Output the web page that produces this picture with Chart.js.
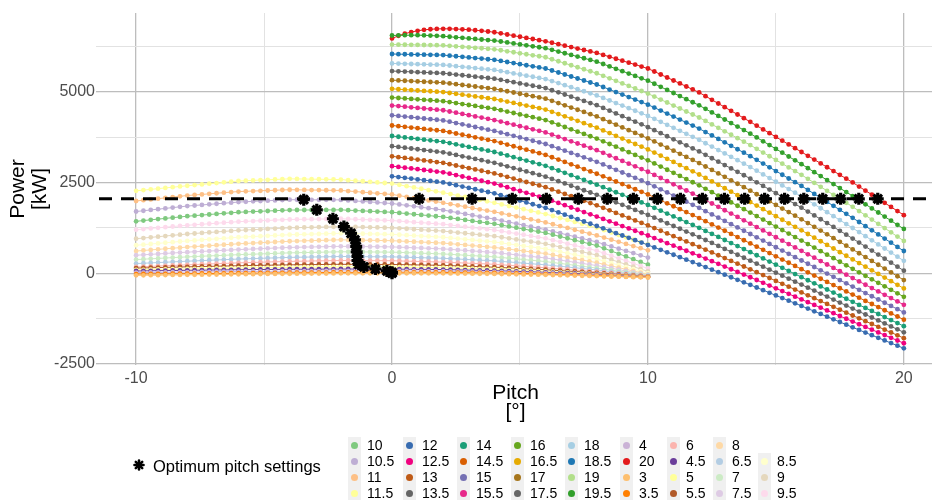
<!DOCTYPE html>
<html>
<head>
<meta charset="utf-8">
<script src="https://cdn.jsdelivr.net/npm/chart.js@4.4.1/dist/chart.umd.min.js"></script>
<style>
  html, body { margin: 0; padding: 0; background: #ffffff; }
  #wrap { position: relative; width: 934px; height: 500px; font-family: "Liberation Sans", Arial, sans-serif; overflow: hidden; }
  #chart { position: absolute; left: 0; top: 0; }
  .key { position: absolute; width: 13px; height: 16px; background: #f0f0f0; }
  .dot { position: absolute; width: 7px; height: 7px; border-radius: 50%; }
  .lbl { position: absolute; font-size: 14px; line-height: 16px; color: #000; white-space: nowrap; }
  .optlbl { position: absolute; font-size: 16.5px; line-height: 20px; color: #000; white-space: nowrap; }
</style>
</head>
<body>
<div id="wrap">
  <canvas id="chart" width="934" height="500"></canvas>
  <div id="legend"></div>
</div>
<script>
// ---- Sampling grids (blade pitch, degrees) ----
// low wind speeds were evaluated on 71 pitch values from -10 to 10,
// high wind speeds on 81 pitch values from 0 to 20
const pitchLow = Array.from({ length: 71 }, (_, j) => -10 + j * 20 / 70);
const pitchHigh = Array.from({ length: 81 }, (_, j) => j * 0.25);

// ---- Power [kW] per wind speed [m/s] ----
const P3 = [-60,-58,-56,-54,-51,-49,-47,-45,-43,-41,-39,-36,-34,-32,-30,-28,-26,-24,-21,-19,-17,-15,-14,-12,-11,-9,-8,-6,-5,-4,-4,-3,-2,-1,-1,0,-1,-1,-2,-3,-4,-4,-5,-7,-9,-11,-14,-16,-18,-20,-24,-27,-31,-34,-38,-41,-45,-50,-55,-60,-65,-70,-75,-80,-86,-91,-97,-103,-109,-114,-120];
const P3_5 = [-25,-23,-21,-19,-18,-16,-14,-12,-10,-9,-7,-5,-3,-2,0,2,3,5,7,9,10,12,13,14,15,17,18,19,20,21,21,22,23,24,24,25,24,24,23,22,21,21,20,18,16,14,11,9,7,5,1,-4,-8,-12,-16,-21,-25,-31,-36,-42,-48,-54,-59,-65,-71,-78,-84,-91,-97,-104,-110];
const P4 = [15,17,19,21,24,26,28,30,32,34,36,39,41,43,45,46,48,49,51,52,54,55,56,57,58,59,60,61,62,62,62,62,63,63,63,63,62,61,60,58,57,56,55,52,49,46,44,41,38,35,30,25,20,15,10,5,0,-7,-14,-21,-29,-36,-43,-50,-58,-66,-74,-81,-89,-97,-105];
const P4_5 = [60,63,66,69,71,74,77,80,82,84,86,89,91,93,95,97,99,101,102,104,106,108,109,110,111,112,113,114,115,115,114,114,114,114,113,113,111,109,107,106,104,102,100,96,91,87,83,79,74,70,64,57,51,44,38,31,25,16,8,-1,-9,-18,-26,-35,-44,-54,-63,-72,-81,-91,-100];
const P5 = [90,94,97,101,104,108,111,115,119,122,126,129,133,136,140,143,146,149,151,154,157,160,162,163,165,167,169,170,172,172,171,171,171,171,170,170,167,164,161,159,156,153,150,144,139,133,127,121,116,110,101,93,84,76,67,59,50,40,30,20,10,0,-10,-20,-31,-41,-52,-63,-74,-84,-95];
const P5_5 = [140,145,150,155,160,165,170,175,179,184,188,192,196,201,205,209,212,216,219,223,226,230,232,234,236,239,241,243,245,244,244,243,242,241,241,240,236,233,229,226,222,219,215,208,201,194,186,179,172,165,155,145,135,125,115,105,95,83,71,59,46,34,22,10,-4,-19,-33,-47,-61,-76,-90];
const P6 = [170,179,187,196,204,213,221,230,238,246,254,261,269,277,285,291,296,302,308,314,319,325,329,332,336,339,343,346,350,349,348,347,346,345,344,343,338,332,327,321,316,310,305,296,288,279,271,262,254,245,231,218,204,191,177,164,150,134,119,103,87,71,56,40,23,6,-11,-29,-46,-63,-80];
const P6_5 = [265,274,284,293,302,311,321,330,339,347,356,364,373,381,390,396,403,409,416,422,429,435,439,442,446,449,453,456,460,459,457,456,454,453,451,450,444,439,433,427,421,416,410,400,390,380,370,360,350,340,324,309,293,277,261,246,230,210,190,170,150,130,110,90,67,44,21,-1,-24,-47,-70];
const P7 = [375,386,396,407,418,429,439,450,459,467,476,484,493,501,510,517,524,531,539,546,553,560,564,569,573,577,581,586,590,589,587,586,584,583,581,580,573,566,559,551,544,537,530,519,507,496,484,473,461,450,431,413,394,376,357,339,320,294,269,243,217,191,166,140,111,83,54,26,-3,-31,-60];
const P7_5 = [495,507,519,531,544,556,568,580,590,600,610,620,630,640,650,659,667,676,684,693,701,710,714,719,723,727,731,736,740,738,736,734,731,729,727,725,717,709,701,694,686,678,670,656,641,627,613,599,584,570,549,527,506,484,463,441,420,390,360,330,300,270,240,210,173,136,99,61,24,-13,-50];
const P8 = [610,626,641,657,673,689,704,720,733,746,759,771,784,797,810,820,830,840,850,860,870,880,886,891,897,903,909,914,920,916,913,909,906,902,899,895,886,876,867,858,849,839,830,813,796,779,761,744,727,710,686,661,637,613,589,564,540,504,469,433,397,361,326,290,244,199,153,107,61,16,-30];
const P8_5 = [770,787,804,821,839,856,873,890,904,919,933,947,961,976,990,1000,1010,1020,1030,1040,1050,1060,1066,1071,1077,1083,1089,1094,1100,1096,1091,1087,1083,1079,1074,1070,1059,1047,1036,1024,1013,1001,990,971,953,934,916,897,879,860,833,806,779,751,724,697,670,630,590,550,510,470,430,390,334,279,223,167,111,56,0];
const P9 = [950,969,987,1006,1024,1043,1061,1080,1094,1109,1123,1137,1151,1166,1180,1190,1200,1210,1220,1230,1240,1250,1255,1260,1265,1270,1275,1280,1285,1280,1275,1270,1265,1260,1255,1250,1237,1224,1211,1199,1186,1173,1160,1140,1120,1100,1080,1060,1040,1020,990,960,930,900,870,840,810,766,721,677,633,589,544,500,436,371,307,243,179,114,50];
const P9_5 = [1200,1217,1234,1251,1269,1286,1303,1320,1334,1349,1363,1377,1391,1406,1420,1429,1437,1446,1454,1463,1471,1480,1483,1486,1489,1491,1494,1497,1500,1493,1486,1479,1471,1464,1457,1450,1436,1421,1407,1393,1379,1364,1350,1327,1304,1281,1259,1236,1213,1190,1157,1124,1091,1059,1026,993,960,911,863,814,766,717,669,620,550,480,410,340,270,200,130];
const P10 = [1430,1450,1470,1490,1510,1530,1550,1570,1586,1601,1617,1633,1649,1664,1680,1689,1697,1706,1714,1723,1731,1740,1741,1741,1742,1743,1744,1744,1745,1736,1726,1717,1708,1699,1689,1680,1661,1643,1624,1606,1587,1569,1550,1523,1496,1469,1441,1414,1387,1360,1324,1289,1253,1217,1181,1146,1110,1060,1010,960,910,860,810,760,685,610,535,460,385,310,235];
const P10_5 = [1700,1721,1743,1764,1786,1807,1829,1850,1866,1881,1897,1913,1929,1944,1960,1969,1979,1988,1997,2006,2016,2025,2024,2024,2023,2022,2021,2021,2020,2006,1991,1977,1963,1949,1934,1920,1894,1869,1843,1817,1791,1766,1740,1704,1669,1633,1597,1561,1526,1490,1449,1407,1366,1324,1283,1241,1200,1151,1103,1054,1006,957,909,860,799,737,676,614,553,491,430];
const P11 = [1990,2011,2033,2054,2076,2097,2119,2140,2156,2171,2187,2203,2219,2234,2250,2257,2264,2271,2279,2286,2293,2300,2297,2294,2291,2289,2286,2283,2280,2264,2249,2233,2217,2201,2186,2170,2137,2104,2071,2039,2006,1973,1940,1904,1869,1833,1797,1761,1726,1690,1649,1607,1566,1524,1483,1441,1400,1349,1297,1246,1194,1143,1091,1040,981,923,864,806,747,689,630];
const P11_5 = [2270,2290,2310,2330,2350,2370,2390,2410,2429,2447,2466,2484,2503,2521,2540,2549,2557,2566,2574,2583,2591,2600,2597,2594,2591,2589,2586,2583,2580,2564,2549,2533,2517,2501,2486,2470,2434,2399,2363,2327,2291,2256,2220,2180,2140,2100,2060,2020,1980,1940,1896,1851,1807,1763,1719,1674,1630,1576,1521,1467,1413,1359,1304,1250,1184,1119,1053,987,921,856,790];

const P12 = [2670,2649,2628,2606,2585,2564,2543,2521,2500,2463,2425,2388,2350,2313,2275,2238,2200,2150,2100,2050,2000,1950,1900,1850,1800,1738,1675,1613,1550,1488,1425,1363,1300,1235,1170,1104,1039,974,909,843,778,711,643,576,508,441,373,306,238,168,98,28,-42,-112,-182,-252,-322,-395,-467,-540,-612,-685,-757,-830,-902,-976,-1050,-1123,-1197,-1271,-1345,-1418,-1492,-1564,-1637,-1709,-1781,-1853,-1926,-1998,-2070];
const P12_5 = [2950,2929,2908,2886,2865,2844,2823,2801,2780,2741,2703,2664,2625,2586,2548,2509,2470,2419,2368,2316,2265,2214,2163,2111,2060,1998,1935,1873,1810,1748,1685,1623,1560,1495,1430,1364,1299,1234,1169,1103,1038,968,898,828,758,688,618,548,478,404,331,257,183,109,36,-38,-112,-188,-265,-341,-417,-493,-570,-646,-722,-798,-875,-951,-1027,-1103,-1180,-1256,-1332,-1407,-1482,-1556,-1631,-1706,-1781,-1855,-1930];
const P13 = [3220,3198,3175,3153,3130,3108,3085,3063,3040,3004,2968,2931,2895,2859,2823,2786,2750,2703,2655,2608,2560,2513,2465,2418,2370,2308,2245,2183,2120,2058,1995,1933,1870,1801,1732,1662,1593,1524,1455,1385,1316,1242,1169,1095,1021,947,874,800,726,649,571,494,416,339,261,184,106,27,-53,-133,-212,-292,-371,-451,-530,-610,-689,-769,-848,-928,-1007,-1087,-1166,-1244,-1322,-1400,-1478,-1556,-1634,-1712,-1790];
const P13_5 = [3500,3479,3458,3436,3415,3394,3373,3351,3330,3294,3258,3221,3185,3149,3113,3076,3040,2993,2945,2898,2850,2803,2755,2708,2660,2598,2535,2473,2410,2348,2285,2223,2160,2091,2021,1952,1883,1813,1744,1674,1605,1529,1453,1376,1300,1224,1148,1071,995,914,833,751,670,589,508,426,345,263,180,98,15,-68,-150,-233,-315,-398,-480,-563,-645,-728,-810,-893,-975,-1057,-1139,-1221,-1303,-1384,-1466,-1548,-1630];
const P14 = [3780,3760,3740,3720,3700,3680,3660,3640,3620,3585,3550,3515,3480,3445,3410,3375,3340,3293,3245,3198,3150,3103,3055,3008,2960,2895,2830,2765,2700,2635,2570,2505,2440,2370,2300,2230,2160,2090,2020,1950,1880,1801,1723,1644,1565,1486,1408,1329,1250,1166,1083,999,915,831,748,664,580,494,408,321,235,149,63,-24,-110,-195,-280,-365,-450,-535,-620,-705,-790,-874,-958,-1041,-1125,-1209,-1293,-1376,-1460];
const P14_5 = [4070,4051,4033,4014,3995,3976,3958,3939,3920,3885,3850,3815,3780,3745,3710,3675,3640,3593,3545,3498,3450,3403,3355,3308,3260,3195,3130,3065,3000,2935,2870,2805,2740,2669,2598,2526,2455,2384,2313,2241,2170,2089,2008,1926,1845,1764,1683,1601,1520,1433,1345,1258,1170,1083,995,908,820,731,643,554,465,376,288,199,110,23,-65,-153,-240,-328,-415,-503,-590,-676,-763,-849,-935,-1021,-1108,-1194,-1280];
const P15 = [4350,4333,4315,4298,4280,4263,4245,4228,4210,4174,4138,4101,4065,4029,3993,3956,3920,3875,3830,3785,3740,3695,3650,3605,3560,3499,3438,3376,3315,3254,3193,3131,3070,2996,2923,2849,2775,2701,2628,2554,2480,2395,2310,2225,2140,2055,1970,1885,1800,1710,1620,1530,1440,1350,1260,1170,1080,989,898,806,715,624,533,441,350,260,170,80,-10,-100,-190,-280,-370,-459,-548,-636,-725,-814,-903,-991,-1080];
const P15_5 = [4620,4604,4588,4571,4555,4539,4523,4506,4490,4456,4423,4389,4355,4321,4288,4254,4220,4178,4135,4093,4050,4008,3965,3923,3880,3819,3758,3696,3635,3574,3513,3451,3390,3316,3241,3167,3093,3018,2944,2869,2795,2709,2623,2536,2450,2364,2278,2191,2105,2013,1920,1828,1735,1643,1550,1458,1365,1271,1178,1084,990,896,803,709,615,521,428,334,240,146,53,-41,-135,-227,-319,-411,-503,-595,-687,-779,-871];
const P16 = [4840,4828,4815,4803,4790,4778,4765,4753,4740,4714,4688,4661,4635,4609,4583,4556,4530,4491,4453,4414,4375,4336,4298,4259,4220,4156,4093,4029,3965,3901,3838,3774,3710,3635,3560,3485,3410,3335,3260,3185,3110,3024,2938,2851,2765,2679,2593,2506,2420,2326,2233,2139,2045,1951,1858,1764,1670,1574,1478,1381,1285,1189,1093,996,900,803,705,608,510,413,315,218,120,24,-73,-169,-265,-361,-458,-554,-650];
const P16_5 = [5080,5069,5058,5046,5035,5024,5013,5001,4990,4966,4943,4919,4895,4871,4848,4824,4800,4764,4728,4691,4655,4619,4583,4546,4510,4448,4385,4323,4260,4198,4135,4073,4010,3935,3860,3785,3710,3635,3560,3485,3410,3324,3238,3151,3065,2979,2893,2806,2720,2625,2530,2435,2340,2245,2150,2055,1960,1863,1765,1668,1570,1473,1375,1278,1180,1080,980,880,780,680,580,480,380,280,180,80,-20,-120,-220,-320,-420];
const P17 = [5320,5311,5303,5294,5285,5276,5268,5259,5250,5229,5208,5186,5165,5144,5123,5101,5080,5046,5013,4979,4945,4911,4878,4844,4810,4749,4688,4626,4565,4504,4443,4381,4320,4244,4169,4093,4018,3942,3866,3791,3715,3630,3545,3460,3375,3290,3205,3120,3035,2940,2845,2750,2655,2560,2465,2370,2275,2176,2078,1979,1880,1781,1683,1584,1485,1381,1278,1174,1070,966,863,759,655,550,444,339,233,128,22,-84,-189];
const P17_5 = [5570,5563,5555,5548,5540,5533,5525,5518,5510,5491,5473,5454,5435,5416,5398,5379,5360,5328,5295,5263,5230,5198,5165,5133,5100,5041,4983,4924,4865,4806,4748,4689,4630,4554,4479,4403,4328,4252,4176,4101,4025,3941,3858,3774,3690,3606,3523,3439,3355,3261,3168,3074,2980,2886,2793,2699,2605,2505,2405,2305,2205,2105,2005,1905,1805,1699,1593,1486,1380,1274,1168,1061,955,844,734,623,512,401,291,180,69];
const P18 = [5780,5775,5770,5765,5760,5755,5750,5745,5740,5723,5705,5688,5670,5653,5635,5618,5600,5569,5538,5506,5475,5444,5413,5381,5350,5294,5238,5181,5125,5069,5013,4956,4900,4829,4759,4688,4618,4547,4476,4406,4335,4253,4170,4088,4005,3923,3840,3758,3675,3581,3488,3394,3300,3206,3113,3019,2925,2824,2723,2621,2520,2419,2318,2216,2115,2006,1898,1789,1680,1571,1463,1354,1245,1132,1019,906,793,680,567,454,341];
const P18_5 = [6040,6036,6033,6029,6025,6021,6018,6014,6010,5994,5978,5961,5945,5929,5913,5896,5880,5850,5820,5790,5760,5730,5700,5670,5640,5585,5530,5475,5420,5365,5310,5255,5200,5131,5061,4992,4923,4853,4784,4714,4645,4563,4480,4398,4315,4233,4150,4068,3985,3890,3795,3700,3605,3510,3415,3320,3225,3123,3020,2918,2815,2713,2610,2508,2405,2295,2185,2075,1965,1855,1745,1635,1525,1411,1296,1182,1068,954,840,725,611];
const P19 = [6300,6298,6295,6293,6290,6288,6285,6283,6280,6266,6253,6239,6225,6211,6198,6184,6170,6143,6115,6088,6060,6033,6005,5978,5950,5895,5840,5785,5730,5675,5620,5565,5510,5440,5370,5300,5230,5160,5090,5020,4950,4868,4785,4703,4620,4538,4455,4373,4290,4195,4100,4005,3910,3815,3720,3625,3530,3428,3325,3223,3120,3018,2915,2813,2710,2600,2490,2380,2270,2160,2050,1940,1830,1713,1595,1478,1360,1243,1125,1008,890];
const P19_5 = [6550,6555,6558,6560,6560,6555,6548,6540,6530,6515,6500,6485,6470,6455,6440,6425,6410,6384,6358,6331,6305,6279,6253,6226,6200,6154,6108,6061,6015,5969,5923,5876,5830,5764,5699,5633,5568,5502,5436,5371,5305,5220,5135,5050,4965,4880,4795,4710,4625,4528,4430,4333,4235,4138,4040,3943,3845,3740,3635,3530,3425,3320,3215,3110,3005,2895,2785,2675,2565,2455,2345,2235,2125,2012,1899,1786,1673,1559,1446,1333,1220];
const P20 = [6470,6540,6600,6645,6680,6705,6722,6732,6735,6733,6728,6720,6710,6695,6680,6660,6640,6609,6578,6546,6515,6484,6453,6421,6390,6350,6310,6270,6230,6190,6150,6110,6070,6016,5963,5909,5855,5801,5748,5694,5640,5558,5475,5393,5310,5228,5145,5063,4980,4879,4778,4676,4575,4474,4373,4271,4170,4066,3963,3859,3755,3651,3548,3444,3340,3235,3130,3025,2920,2815,2710,2605,2500,2388,2275,2163,2050,1938,1825,1713,1600];

// ---- Optimum pitch per wind speed and the power it gives ----
const optWind  = ['3','3.5','4','4.5','5','5.5','6','6.5','7','7.5','8','8.5','9','9.5','10','10.5','11','11.5','12','12.5','13','13.5','14','14.5','15','15.5','16','16.5','17','17.5','18','18.5','19','19.5','20'];
const optPitch = [0.0,0.0,-0.2,-0.65,-1.1,-1.3,-1.35,-1.35,-1.38,-1.4,-1.45,-1.6,-1.88,-2.31,-2.94,-3.45,1.06,3.13,4.70,6.03,7.28,8.41,9.43,10.37,11.27,12.13,12.99,13.78,14.56,15.34,16.09,16.83,17.53,18.24,18.98];
const optPower = [0,25,63,115,171,244,350,460,590,740,920,1100,1285,1500,1745,2025,2050,2050,2050,2050,2050,2050,2050,2050,2050,2050,2050,2050,2050,2050,2050,2050,2050,2050,2050];

// rated power of the turbine [kW]
const ratedPower = 2050;

// ---- Axis ticks ----
const pitchTicks = [-10, -5, 0, 5, 10, 15, 20];
const pitchLabelTicks = [-10, 0, 10, 20];
const powerTicks = [-2500, -1250, 0, 1250, 2500, 3750, 5000, 6250];
const powerLabelTicks = [-2500, 0, 2500, 5000];

// ---- Colours per wind speed ----
const windColors = {
  '10': '#7fc97f', '10.5': '#beaed4', '11': '#fdc086', '11.5': '#ffff99',
  '12': '#386cb0', '12.5': '#f0027f', '13': '#bf5b17', '13.5': '#666666',
  '14': '#1b9e77', '14.5': '#d95f02', '15': '#7570b3', '15.5': '#e7298a',
  '16': '#66a61e', '16.5': '#e6ab02', '17': '#a6761d', '17.5': '#666666',
  '18': '#a6cee3', '18.5': '#1f78b4', '19': '#b2df8a', '19.5': '#33a02c',
  '20': '#e31a1c', '3': '#fdbf6f', '3.5': '#ff7f00', '4': '#cab2d6',
  '4.5': '#6a3d9a', '5': '#ffff99', '5.5': '#b15928', '6': '#fbb4ae',
  '6.5': '#b3cde3', '7': '#ccebc5', '7.5': '#decbe4', '8': '#fed9a6',
  '8.5': '#ffffcc', '9': '#e5d8bd', '9.5': '#fddaec'
};

const lowSeries = [
  ['3', P3], ['3.5', P3_5], ['4', P4], ['4.5', P4_5], ['5', P5], ['5.5', P5_5],
  ['6', P6], ['6.5', P6_5], ['7', P7], ['7.5', P7_5], ['8', P8], ['8.5', P8_5],
  ['9', P9], ['9.5', P9_5], ['10', P10], ['10.5', P10_5], ['11', P11], ['11.5', P11_5]
];
const highSeries = [
  ['12', P12], ['12.5', P12_5], ['13', P13], ['13.5', P13_5], ['14', P14], ['14.5', P14_5],
  ['15', P15], ['15.5', P15_5], ['16', P16], ['16.5', P16_5], ['17', P17], ['17.5', P17_5],
  ['18', P18], ['18.5', P18_5], ['19', P19], ['19.5', P19_5], ['20', P20]
];

// legend layout, column by column
const legendColumns = [
  ['10', '10.5', '11', '11.5'], ['12', '12.5', '13', '13.5'], ['14', '14.5', '15', '15.5'],
  ['16', '16.5', '17', '17.5'], ['18', '18.5', '19', '19.5'], ['4', '20', '3', '3.5'],
  ['6', '4.5', '5', '5.5'], ['8', '6.5', '7', '7.5'], [null, '8.5', '9', '9.5']
];

// axis ranges
const X_MIN = -11.45, X_MAX = 21.1;
const Y_MIN = -2530, Y_MAX = 7170;

const FONT = '"Liberation Sans", Arial, sans-serif';

function curve(name, grid, values, order) {
  const color = windColors[name];
  return {
    label: name,
    data: values.map((p, i) => ({ x: grid[i], y: p })),
    showLine: true,
    borderColor: color,
    backgroundColor: color,
    borderWidth: 1,
    pointRadius: 2.4,
    pointBorderWidth: 0,
    pointHoverRadius: 0,
    order: order
  };
}

const datasets = [];
// optimum settings on top
datasets.push({
  label: 'Optimum pitch settings',
  data: optPitch.map((p, i) => ({ x: p, y: optPower[i] })),
  showLine: false,
  pointStyle: 'star',
  pointRadius: 6,
  borderWidth: 3.2,
  borderColor: '#000000',
  backgroundColor: '#000000',
  order: 0
});
datasets.push({
  label: 'rated',
  data: [{ x: X_MIN, y: ratedPower }, { x: X_MAX, y: ratedPower }],
  showLine: true,
  borderColor: '#000000',
  borderWidth: 3,
  borderDash: [13, 9],
  pointRadius: 0,
  order: 1
});
highSeries.forEach(([n, v]) => datasets.push(curve(n, pitchHigh, v, 2)));
lowSeries.forEach(([n, v]) => datasets.push(curve(n, pitchLow, v, 3)));

const majorGrid = '#bdbdbd', minorGrid = '#e2e2e2';

new Chart(document.getElementById('chart'), {
  type: 'scatter',
  data: { datasets },
  options: {
    responsive: false,
    animation: false,
    events: [],
    layout: { autoPadding: false, padding: { left: 0, right: 2, top: 13, bottom: 78 } },
    plugins: { legend: { display: false }, tooltip: { enabled: false } },
    scales: {
      x: {
        type: 'linear',
        min: X_MIN, max: X_MAX,
        afterBuildTicks: s => { s.ticks = pitchTicks.map(v => ({ value: v })); },
        afterFit: s => { s.height = 57; s.paddingLeft = 0; s.paddingRight = 0; },
        border: { display: false },
        grid: {
          drawTicks: false,
          color: c => pitchLabelTicks.includes(c.tick.value) ? majorGrid : minorGrid,
          lineWidth: c => pitchLabelTicks.includes(c.tick.value) ? 1.3 : 1
        },
        ticks: {
          autoSkip: false, maxRotation: 0, padding: 4,
          color: '#4d4d4d', font: { family: FONT, size: 16 },
          callback: v => pitchLabelTicks.includes(v) ? String(v) : ''
        },
        title: {
          display: true, text: ['Pitch', '[°]'], color: '#000000',
          font: { family: FONT, size: 21, lineHeight: 0.9 },
          padding: { top: 0, bottom: 0 }
        }
      },
      y: {
        type: 'linear',
        min: Y_MIN, max: Y_MAX,
        afterBuildTicks: s => { s.ticks = powerTicks.map(v => ({ value: v })); },
        afterFit: s => { s.width = 99; s.paddingTop = 0; s.paddingBottom = 0; },
        border: { display: false },
        grid: {
          drawTicks: true, tickLength: 3,
          color: c => powerLabelTicks.includes(c.tick.value) ? majorGrid : minorGrid,
          lineWidth: c => powerLabelTicks.includes(c.tick.value) ? 1.3 : 1
        },
        ticks: {
          autoSkip: false, padding: 1,
          color: '#4d4d4d', font: { family: FONT, size: 16 },
          callback: v => powerLabelTicks.includes(v) ? String(v) : ''
        },
        title: {
          display: true, text: ['Power', '[kW]'], color: '#000000',
          font: { family: FONT, size: 21, lineHeight: 1.05 },
          padding: { top: 7, bottom: 0 }
        }
      }
    }
  }
});

// ---- legend ----
const legendEl = document.getElementById('legend');
const colX = [354, 409, 463, 517, 571, 626, 673, 719, 764];
const rowY = [445, 461, 477, 493];
legendColumns.forEach((col, ci) => {
  col.forEach((name, ri) => {
    if (!name) return;
    const cx = colX[ci], cy = rowY[ri];
    const key = document.createElement('div');
    key.className = 'key';
    key.style.left = (cx - 6.5) + 'px';
    key.style.top = (cy - 8) + 'px';
    legendEl.appendChild(key);
    const dot = document.createElement('div');
    dot.className = 'dot';
    dot.style.left = (cx - 3.5) + 'px';
    dot.style.top = (cy - 3.5) + 'px';
    dot.style.background = windColors[name];
    legendEl.appendChild(dot);
    const lbl = document.createElement('div');
    lbl.className = 'lbl';
    lbl.style.left = (cx + 13) + 'px';
    lbl.style.top = (cy - 8) + 'px';
    lbl.textContent = name;
    legendEl.appendChild(lbl);
  });
});
// optimum marker entry
const star = document.createElementNS('http://www.w3.org/2000/svg', 'svg');
star.setAttribute('width', '12');
star.setAttribute('height', '12');
star.style.position = 'absolute';
star.style.left = '133px';
star.style.top = '459px';
star.innerHTML = '<g stroke="#000" stroke-width="2.6" stroke-linecap="round">' +
  '<line x1="6" y1="1.5" x2="6" y2="10.5"/><line x1="1.5" y1="6" x2="10.5" y2="6"/>' +
  '<line x1="2.8" y1="2.8" x2="9.2" y2="9.2"/><line x1="9.2" y1="2.8" x2="2.8" y2="9.2"/></g>';
legendEl.appendChild(star);
const optLbl = document.createElement('div');
optLbl.className = 'optlbl';
optLbl.style.left = '153px';
optLbl.style.top = '456px';
optLbl.textContent = 'Optimum pitch settings';
legendEl.appendChild(optLbl);
</script>
</body>
</html>
